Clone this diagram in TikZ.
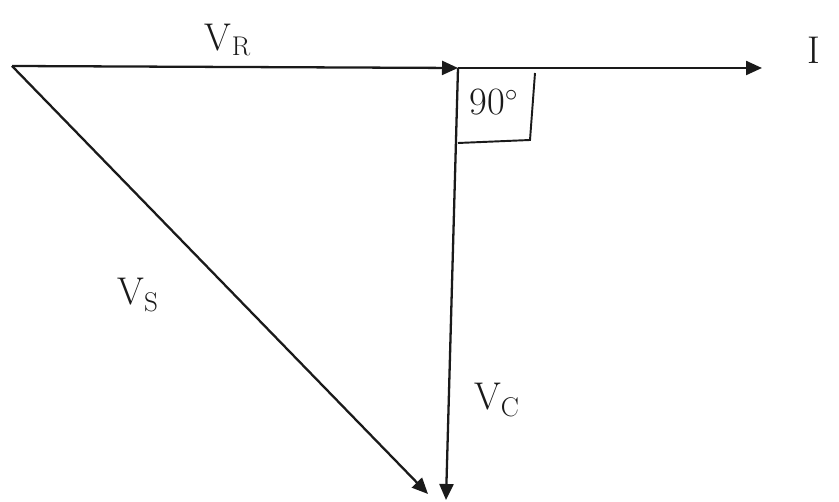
\documentclass[tikz,border=0pt]{standalone}
\usepackage{xcolor}
\usepackage{tikz}
\usetikzlibrary{
  arrows.meta,
  positioning,
  calc
}
\definecolor{phInk}{HTML}{1A1A1A}
\tikzset{
  phasor/.style={-{Triangle[length=3.2mm, width=2.8mm]}, line width=1.3pt, phInk},
  refline/.style={line width=1.3pt, phInk},
  anglebox/.style={line width=1.1pt, phInk},
  plabel/.style={font=\fontsize{22}{26}\selectfont, text=phInk, inner sep=1pt}
}
\begin{document}
\begin{tikzpicture}[x=0.02cm, y=-0.02cm]
  \useasboundingbox (0,0) rectangle (839,502);
  % phasor end points
  \coordinate (o) at (12,66);
  \coordinate (r) at (458,68);
  \coordinate (i) at (762,68);
  \coordinate (c) at (446,500);
  \coordinate (s) at (428,494);
  % phasors
  \draw[phasor] (o) -- (r);
  \draw[phasor] (r) -- (i);
  \draw[phasor] (r) -- (c);
  \draw[phasor] (o) -- (s);
  % right angle box
  \coordinate (b1) at (458,143);
  \coordinate (b2) at (530,140);
  \coordinate (b3) at (535,73);
  \draw[anglebox] (b1) -- (b2) -- (b3);
  \node[plabel] (ang) at (494,102) {90$^{\circ}$};
  % labels
  \node[plabel] (vr) at (228,40) {V\textsubscript{R}};
  \node[plabel] (il) at (814,50) {I};
  \node[plabel] (vs) at (138,295) {V\textsubscript{S}};
  \node[plabel] (vc) at (497,400) {V\textsubscript{C}};
\end{tikzpicture}
\end{document}
